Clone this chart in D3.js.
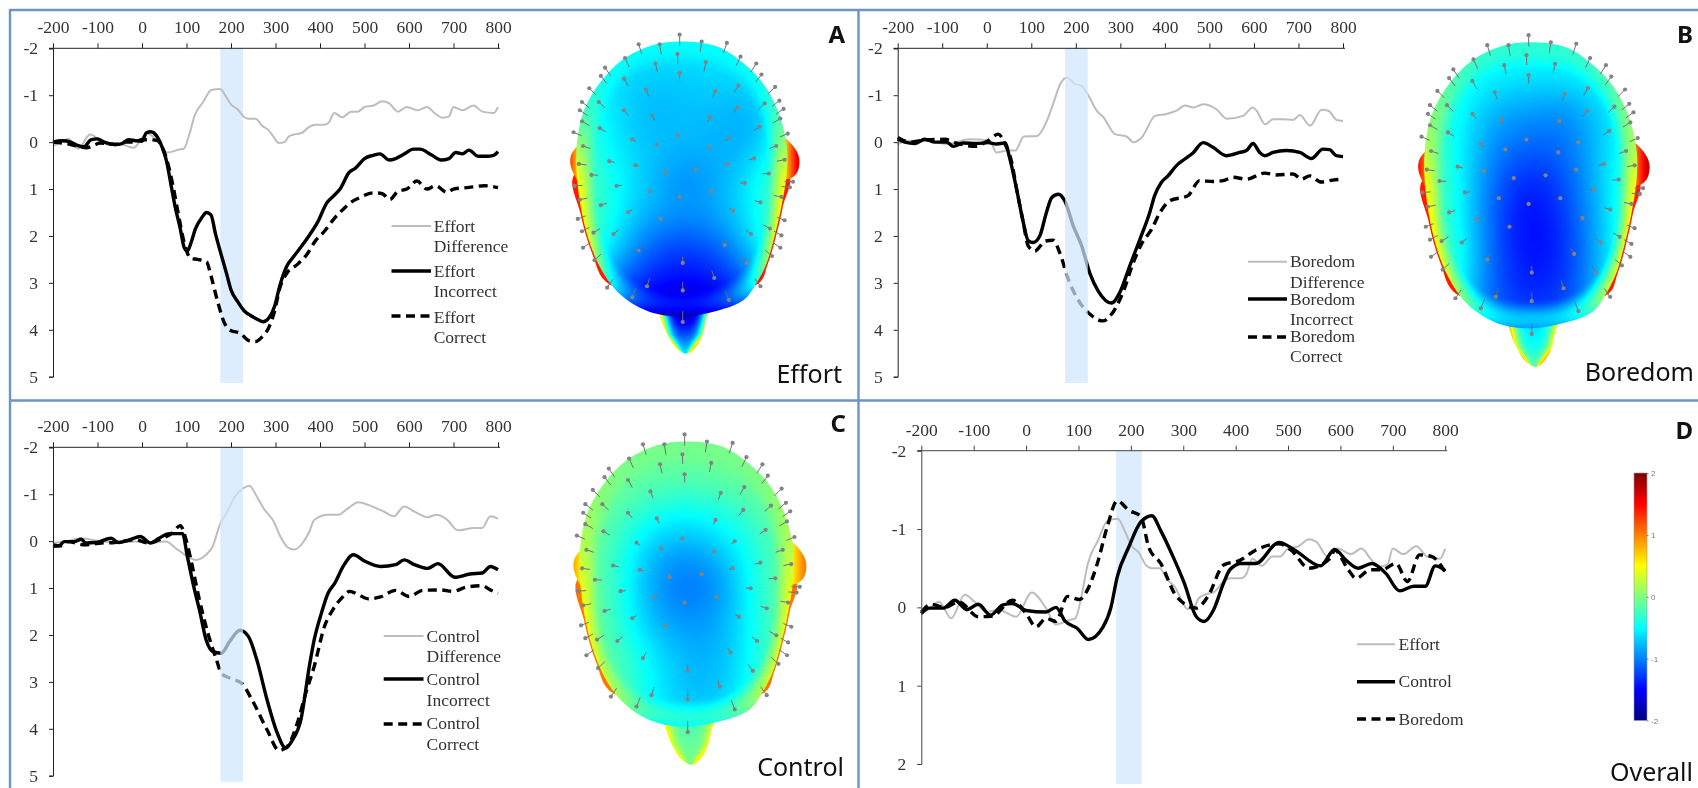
<!DOCTYPE html>
<html>
<head>
<meta charset="utf-8">
<style>
  html, body { margin: 0; padding: 0; background: #fff; overflow: hidden; }
  #wrap { position: relative; width: 1698px; height: 788px; }
  canvas, svg { position: absolute; left: 0; top: 0; filter: blur(0.5px); }
</style>
<script src="https://cdn.jsdelivr.net/npm/d3@7"></script>
</head>
<body>
<div id="wrap">
  <canvas id="heads" width="1698" height="788"></canvas>
  <svg id="chart" width="1698" height="788"></svg>
</div>
<script>
// ticks
const xTicks = [-200, -100, 0, 100, 200, 300, 400, 500, 600, 700, 800]
const yTicksLong = [-2, -1, 0, 1, 2, 3, 4, 5]
const yTicksShort = [-2, -1, 0, 1, 2]
const barTicks = [-2, -1, 0, 1, 2]
const bandRange = [176, 227]
const overallBandRange = [172, 221]

// Effort waveforms (time in ms, amplitude in uV)
const effortDiffT = [-200, -185, -166, -143, -117, -98, -75, -53, -19, 11, 38, 57, 83, 94, 106, 118, 137, 156, 175, 190, 200, 215, 230, 240, 255, 270, 285, 295, 308, 320, 330, 345, 360, 375, 390, 410, 420, 432, 450, 470, 485, 500, 520, 540, 555, 575, 595, 620, 640, 660, 675, 690, 700, 720, 745, 765, 790, 800]
const effortDiffV = [0.08, 0.02, -0.07, 0.14, -0.16, -0.07, 0.06, 0.03, 0.12, -0.19, 0.01, 0.22, 0.16, 0.14, -0.15, -0.56, -0.85, -1.11, -1.13, -0.95, -0.8, -0.7, -0.53, -0.5, -0.5, -0.35, -0.25, -0.12, 0.02, 0, -0.12, -0.17, -0.2, -0.32, -0.37, -0.37, -0.42, -0.62, -0.53, -0.65, -0.65, -0.75, -0.78, -0.87, -0.83, -0.65, -0.75, -0.68, -0.75, -0.6, -0.52, -0.55, -0.75, -0.68, -0.78, -0.65, -0.62, -0.75]
const effortIncT = [-200, -180, -160, -145, -130, -115, -100, -85, -60, -45, -30, -15, 0, 10, 20, 35, 45, 55, 65, 75, 85, 95, 102, 110, 120, 135, 145, 155, 165, 175, 190, 200, 215, 230, 245, 260, 272, 285, 298, 310, 325, 340, 360, 375, 395, 415, 430, 445, 465, 480, 500, 520, 535, 555, 570, 590, 610, 625, 650, 672, 690, 705, 720, 735, 755, 775, 790, 800]
const effortIncV = [0, -0.03, 0, 0.07, 0.1, -0.05, -0.07, 0, 0.05, 0.03, -0.05, -0.03, -0.02, -0.2, -0.22, -0.1, 0.1, 0.4, 0.9, 1.4, 1.8, 2.25, 2.32, 2.15, 1.85, 1.6, 1.5, 1.55, 1.95, 2.3, 2.8, 3.15, 3.4, 3.6, 3.7, 3.78, 3.83, 3.75, 3.5, 3.05, 2.65, 2.45, 2.2, 2, 1.7, 1.3, 1.15, 1, 0.65, 0.55, 0.35, 0.28, 0.25, 0.38, 0.35, 0.25, 0.15, 0.15, 0.27, 0.38, 0.35, 0.22, 0.25, 0.17, 0.3, 0.3, 0.28, 0.2]
const effortCorT = [-200, -180, -160, -140, -125, -110, -95, -60, -40, -20, 0, 20, 35, 45, 55, 70, 80, 95, 110, 125, 145, 155, 170, 185, 200, 220, 240, 255, 270, 285, 298, 310, 325, 350, 370, 390, 410, 430, 450, 470, 490, 520, 540, 557, 575, 595, 618, 640, 660, 685, 700, 730, 770, 800]
const effortCorV = [0, 0.02, 0.05, 0.1, 0.12, 0.08, 0.02, 0.05, 0, 0, -0.05, -0.05, -0.03, 0.1, 0.35, 0.95, 1.45, 2.15, 2.48, 2.5, 2.55, 2.85, 3.4, 3.85, 4.02, 4.07, 4.23, 4.25, 4.15, 3.95, 3.6, 3.1, 2.8, 2.6, 2.4, 2.1, 1.9, 1.65, 1.45, 1.28, 1.18, 1.08, 1.1, 1.22, 1.05, 1, 0.83, 1, 0.93, 1.07, 1, 0.97, 0.93, 0.97]

// Boredom waveforms
const boredomDiffT = [-200, -172, -135, -90, -38, 7, 22, 45, 64, 83, 113, 128, 150, 165, 180, 198, 213, 228, 247, 262, 288, 314, 329, 348, 378, 404, 426, 445, 464, 486, 516, 539, 576, 597, 606, 625, 643, 666, 688, 703, 726, 752, 767, 786, 800]
const boredomDiffV = [0.04, -0.03, -0.03, 0.04, -0.06, -0.03, 0.22, 0.18, 0.18, -0.12, -0.13, -0.31, -0.84, -1.24, -1.38, -1.24, -1.2, -1, -0.67, -0.53, -0.17, -0.12, 0, -0.1, -0.56, -0.6, -0.67, -0.78, -0.74, -0.81, -0.7, -0.5, -0.56, -0.74, -0.67, -0.38, -0.49, -0.49, -0.47, -0.58, -0.35, -0.69, -0.67, -0.47, -0.45]
const boredomIncT = [-200, -184, -161, -139, -116, -90, -75, -53, -23, 3, 22, 41, 52, 67, 82, 93, 104, 119, 134, 146, 161, 175, 194, 213, 232, 250, 280, 299, 321, 344, 366, 377, 392, 407, 426, 445, 463, 486, 508, 538, 568, 583, 598, 613, 624, 643, 673, 703, 729, 755, 770, 785, 800]
const boredomIncV = [-0.06, 0, 0.03, -0.06, 0, 0, 0.09, 0.02, 0.03, 0.01, 0.04, 0.02, 0.36, 1, 1.71, 2.1, 2.14, 2, 1.5, 1.18, 1.11, 1.25, 1.78, 2.21, 2.81, 3.17, 3.43, 3.2, 2.64, 2.07, 1.5, 1.14, 0.86, 0.72, 0.5, 0.36, 0.23, 0.01, 0.11, 0.29, 0.22, 0.18, 0.03, 0.22, 0.29, 0.22, 0.18, 0.22, 0.35, 0.15, 0.16, 0.29, 0.31]
const boredomCorT = [-200, -172, -135, -94, -68, -26, 3, 26, 41, 56, 67, 82, 93, 108, 131, 149, 164, 183, 209, 232, 261, 280, 306, 329, 347, 370, 389, 411, 452, 478, 508, 531, 553, 583, 624, 650, 688, 707, 725, 751, 777, 800]
const boredomCorV = [-0.1, 0, -0.05, -0.06, 0.02, 0.09, -0.03, -0.17, 0.04, 0.43, 1, 1.71, 2.21, 2.32, 2.11, 2.09, 2.36, 2.92, 3.42, 3.67, 3.81, 3.67, 3.2, 2.57, 2.18, 1.86, 1.5, 1.25, 1.14, 0.82, 0.84, 0.82, 0.75, 0.79, 0.66, 0.7, 0.68, 0.79, 0.72, 0.85, 0.81, 0.79]

// Control waveforms
const controlDiffT = [-200, -175, -137, -91, -53, -15, 15, 53, 80, 121, 144, 159, 175, 190, 209, 228, 241, 258, 273, 296, 311, 327, 342, 361, 376, 387, 418, 441, 463, 486, 517, 547, 566, 589, 612, 642, 661, 684, 710, 745, 764, 783, 800]
const controlDiffV = [0.04, 0.01, -0.06, 0.01, 0.03, 0.01, 0.04, 0.01, 0.18, 0.4, 0.29, 0.11, -0.35, -0.6, -0.95, -1.13, -1.18, -0.95, -0.7, -0.42, -0.1, 0.13, 0.18, 0.04, -0.2, -0.45, -0.56, -0.56, -0.7, -0.83, -0.74, -0.61, -0.53, -0.74, -0.63, -0.51, -0.56, -0.47, -0.23, -0.28, -0.28, -0.53, -0.48]
const controlIncT = [-200, -186, -175, -152, -137, -126, -103, -69, -53, -27, -4, 19, 38, 61, 91, 102, 118, 129, 144, 159, 178, 197, 220, 239, 258, 281, 304, 323, 338, 357, 376, 387, 403, 418, 433, 452, 475, 501, 536, 570, 589, 612, 642, 665, 703, 737, 764, 783, 800]
const controlIncV = [0.11, 0.1, 0.01, 0.01, -0.04, 0.04, 0.03, -0.06, 0.03, -0.03, -0.1, 0.04, -0.06, -0.16, -0.16, 0.33, 1.04, 1.46, 2.1, 2.35, 2.39, 2.14, 1.9, 2.03, 2.53, 3.38, 4.09, 4.41, 4.24, 3.81, 2.67, 2.1, 1.54, 1.11, 0.9, 0.54, 0.29, 0.43, 0.54, 0.5, 0.4, 0.5, 0.58, 0.48, 0.77, 0.7, 0.68, 0.54, 0.61]
const controlCorT = [-200, -183, -167, -129, -91, -61, -15, 15, 45, 68, 86, 99, 110, 129, 148, 167, 178, 197, 224, 247, 281, 308, 327, 349, 368, 387, 410, 429, 448, 467, 486, 509, 536, 570, 600, 631, 669, 699, 729, 764, 783, 800]
const controlCorV = [0.08, 0.1, 0.01, 0.08, 0.04, 0.03, -0.03, 0.04, -0.06, -0.17, -0.33, -0.03, 0.4, 1.25, 1.96, 2.52, 2.81, 2.92, 3.03, 3.38, 4.02, 4.46, 4.37, 3.88, 3.24, 2.67, 1.82, 1.46, 1.22, 1.07, 1.14, 1.23, 1.19, 1.05, 1.18, 1.05, 1.04, 1.07, 0.98, 0.95, 1.04, 1.11]

// Overall panel: the difference waves on their own scale
const overallControlT = [-200, -185, -158, -136, -113, -91, -68, -45, -26, 0, 38, 57, 75, 98, 119, 147, 162, 174, 196, 219, 240, 257, 279, 302, 325, 340, 358, 377, 389, 411, 438, 483, 513, 562, 589, 611, 634, 660, 687, 713, 740, 762, 781, 800]
const overallControlV = [0.08, 0.01, 0.01, -0.09, 0.03, -0.04, 0.1, -0.03, -0.05, 0.04, 0.06, 0, 0.18, 0.27, 0.41, 0.25, 0, -0.39, -0.77, -1.09, -1.17, -0.98, -0.67, -0.31, 0.12, 0.18, 0.03, -0.31, -0.48, -0.56, -0.56, -0.83, -0.73, -0.53, -0.74, -0.6, -0.5, -0.56, -0.43, -0.21, -0.27, -0.27, -0.53, -0.47]
const overallBoredomT = [-200, -181, -155, -128, -91, -64, -26, 0, 19, 38, 57, 79, 102, 117, 136, 155, 174, 196, 219, 234, 257, 287, 325, 347, 377, 408, 438, 483, 506, 540, 581, 589, 615, 630, 657, 679, 706, 728, 751, 774, 800]
const overallBoredomV = [0.06, -0.04, 0, -0.07, 0.12, 0.11, -0.09, 0.08, 0.25, 0.14, 0.18, -0.14, -0.1, -0.22, -0.56, -1.03, -1.36, -1.24, -1.16, -0.77, -0.56, -0.14, 0.01, -0.14, -0.54, -0.6, -0.73, -0.81, -0.73, -0.5, -0.63, -0.73, -0.48, -0.37, -0.48, -0.48, -0.56, -0.33, -0.67, -0.65, -0.45]

// Scalp maps: amplitude on a 7 x 9 grid over the head, plus outline, rim, nose and ear levels
const effortScalp = [
  [-0.55, -0.55, -0.55, -0.55, -0.55, -0.55, -0.55],
  [-0.5, -0.6, -0.7, -0.7, -0.65, -0.6, -0.5],
  [-0.3, -0.6, -0.8, -0.75, -0.75, -0.85, -0.4],
  [-0.2, -0.55, -0.75, -0.75, -0.8, -0.85, -0.3],
  [-0.1, -0.45, -0.7, -1, -0.85, -0.55, -0.1],
  [-0.05, -0.45, -0.8, -0.9, -0.85, -0.55, -0.05],
  [0, -0.6, -1.1, -1.3, -1.15, -0.7, 0],
  [-0.4, -1, -1.4, -1.5, -1.45, -1.1, -0.4],
  [-1.2, -1.6, -1.8, -1.9, -1.8, -1.6, -1.2]
]
const effortRim = [-0.5, -0.45, -0.3, 0.05, 0.45, 0.55, 0.5, -0.2, -1.8]
const boredomScalp = [
  [-0.4, -0.4, -0.4, -0.4, -0.4, -0.4, -0.4],
  [-0.2, -0.4, -0.55, -0.6, -0.6, -0.45, -0.3],
  [-0.1, -0.5, -0.85, -0.9, -1, -0.7, -0.35],
  [-0.1, -0.55, -1, -1.15, -1.1, -0.7, -0.3],
  [0, -0.5, -1.15, -1.45, -1.2, -0.7, -0.15],
  [0, -0.5, -1.2, -1.55, -1.3, -0.75, -0.1],
  [0.1, -0.4, -1.2, -1.5, -1.35, -0.75, -0.1],
  [0, -0.5, -1.2, -1.4, -1.3, -0.7, -0.1],
  [-0.7, -0.9, -1.1, -1.15, -1.1, -0.9, -0.6]
]
const boredomRim = [-0.35, -0.2, 0, 0.15, 0.45, 0.6, 0.6, 0.4, -0.9]
const controlScalp = [
  [-0.05, -0.05, -0.05, -0.05, -0.05, -0.05, -0.05],
  [0, -0.05, -0.1, -0.15, -0.1, -0.05, 0],
  [0, -0.15, -0.4, -0.5, -0.4, -0.2, 0],
  [0, -0.3, -0.75, -0.9, -0.7, -0.35, -0.05],
  [0.05, -0.3, -0.9, -1.1, -0.95, -0.35, 0],
  [0.05, -0.3, -0.8, -0.95, -0.85, -0.4, 0],
  [0.05, -0.2, -0.55, -0.8, -0.8, -0.4, 0.05],
  [0.05, -0.1, -0.5, -0.8, -0.75, -0.35, 0.05],
  [-0.3, -0.45, -0.55, -0.6, -0.55, -0.4, -0.2]
]
const controlRim = [-0.05, 0, 0.1, 0.2, 0.4, 0.5, 0.5, 0.35, -0.5]

const effortNose = [-1.7, -1.2, -0.55]
const boredomNose = [-0.6, -0.45, -0.1]
const controlNose = [-0.2, -0.1, 0]
const effortNoseEdge = 0.6
const boredomNoseEdge = 0.7
const controlNoseEdge = 0.55
const effortEars = [0.8, 1.55]
const boredomEars = [1.1, 1.7]
const controlEars = [0.6, 1]
const effortBackRim = 1.4
const boredomBackRim = 1.4
const controlBackRim = 1.05

// head shapes and sensor layout, in head units (-1..1 across the scalp)
const headOutline = [[0, -1], [0.33, -0.965], [0.59, -0.84], [0.78, -0.69], [0.92, -0.49], [1, -0.24], [1, -0.04], [0.95, 0.2], [0.9, 0.37], [0.81, 0.61], [0.71, 0.76], [0.59, 0.88], [0.33, 0.96], [0.02, 1], [-0.27, 0.975], [-0.52, 0.88], [-0.68, 0.76], [-0.84, 0.54], [-0.95, 0.25], [-1, -0.04], [-1, -0.24], [-0.94, -0.48], [-0.78, -0.7], [-0.56, -0.87], [-0.27, -0.975]]
const noseOutline = [[-0.2, 0.95], [-0.19, 1.03], [-0.13, 1.14], [-0.05, 1.23], [0.05, 1.27], [0.14, 1.22], [0.2, 1.13], [0.23, 1.03], [0.25, 0.95]]
const leftEar = [[-0.98, -0.24], [-1.05, -0.18], [-1.06, -0.11], [-1.03, -0.04], [-0.97, 0.03]]
const rightEar = [[0.96, -0.3], [1.06, -0.24], [1.12, -0.15], [1.1, -0.05], [1.02, 0], [0.96, -0.02]]
const sensors = [[-0.02, -1.05], [-0.41, -0.98], [-0.21, -0.98], [0.19, -1], [0.43, -0.99], [-0.54, -0.88], [0.56, -0.89], [-0.73, -0.81], [0.71, -0.84], [-0.77, -0.75], [0.76, -0.76], [-0.88, -0.66], [0.89, -0.67], [-0.95, -0.56], [0.93, -0.57], [-0.97, -0.5], [0.97, -0.51], [-0.95, -0.42], [0.94, -0.44], [-1.03, -0.34], [1.01, -0.33], [-0.04, -0.91], [-0.25, -0.84], [0.23, -0.85], [-0.02, -0.77], [-0.55, -0.73], [0.54, -0.68], [-0.34, -0.65], [0.32, -0.64], [-0.79, -0.56], [0.79, -0.55], [-0.55, -0.5], [0.53, -0.52], [-0.28, -0.46], [0.27, -0.45], [-0.78, -0.37], [0.74, -0.38], [-0.47, -0.29], [-0.04, -0.32], [0.45, -0.3], [-0.94, -0.24], [0.9, -0.24], [-0.24, -0.25], [0.26, -0.23], [-0.69, -0.13], [0.69, -0.15], [-0.44, -0.1], [0.43, -0.11], [-0.98, -0.11], [0.98, -0.14], [-0.16, -0.05], [0.14, -0.07], [-0.86, -0.03], [0.83, -0.04], [-1.02, 0.05], [1.06, 0.02], [1.03, 0.06], [-0.62, 0.05], [0.6, 0.03], [-0.3, 0.09], [-0.02, 0.13], [0.28, 0.09], [-0.97, 0.15], [0.95, 0.13], [-0.77, 0.19], [0.75, 0.17], [-0.51, 0.24], [0.49, 0.23], [-0.2, 0.29], [-0.99, 0.29], [0.98, 0.3], [-0.95, 0.38], [-0.84, 0.39], [-0.65, 0.4], [0.66, 0.4], [0.84, 0.36], [0.95, 0.41], [-0.94, 0.5], [-0.41, 0.52], [0.41, 0.48], [0.94, 0.5], [-0.83, 0.59], [0.01, 0.61], [0.62, 0.61], [0.86, 0.56], [-0.71, 0.79], [-0.33, 0.78], [0.31, 0.72], [0.75, 0.78], [0.01, 0.81], [-0.47, 0.86], [0.45, 0.88], [0.01, 1.04]]

const jetStops = [-2, -1.5, -0.5, 0, 0.5, 1.5, 2]
const jetColors = ['#00007f', '#0000ff', '#00ffff', '#80ff80', '#ffff00', '#ff0000', '#7f0000']

const jet = d3.scaleLinear().domain(jetStops).range(jetColors).clamp(true)

const svg = d3.select('#chart')
const ctx = document.getElementById('heads').getContext('2d')
ctx.fillStyle = '#fff'
ctx.fillRect(0, 0, 1698, 788)

const GREY = { color: '#bdbdbd', width: 2, dash: null }
const SOLID = { color: '#000', width: 3.4, dash: null }
const DASH = { color: '#000', width: 3.4, dash: '9,5.5' }

function drawWaveChart(cfg) {
  const x = d3.scaleLinear().domain([-200, 800]).range(cfg.xRange)
  const y = d3.scaleLinear().domain(cfg.yDomain).range(cfg.yRange)
  const g = svg.append('g')

  const line = d3
    .line()
    .x(d => x(d[0]))
    .y(d => y(d[1]))
    .curve(d3.curveMonotoneX)

  function band() {
    g.append('rect')
      .attr('x', x(cfg.band[0]))
      .attr('y', cfg.yRange[0])
      .attr('width', x(cfg.band[1]) - x(cfg.band[0]))
      .attr('height', cfg.bandBottom - cfg.yRange[0])
      .attr('fill', cfg.bandOnTop ? '#cfe6fd' : '#ddedfe')
      .attr('fill-opacity', cfg.bandOnTop ? 0.72 : 1)
  }

  if (!cfg.bandOnTop) band()

  cfg.series.forEach(s => {
    g.append('path')
      .datum(d3.zip(s.t, s.v))
      .attr('d', line)
      .attr('fill', 'none')
      .attr('stroke', s.style.color)
      .attr('stroke-width', s.style.width)
      .attr('stroke-dasharray', s.style.dash)
      .attr('stroke-linejoin', 'round')
  })

  if (cfg.bandOnTop) band()

  const plain = d => String(d)
  const top = g
    .append('g')
    .attr('transform', 'translate(0,' + cfg.yRange[0] + ')')
    .call(
      d3
        .axisTop(x)
        .tickValues(xTicks)
        .tickFormat(plain)
        .tickSize(5)
        .tickPadding(10)
    )
  const left = g
    .append('g')
    .attr('transform', 'translate(' + cfg.xRange[0] + ',0)')
    .call(
      d3
        .axisLeft(y)
        .tickValues(cfg.yTicks)
        .tickFormat(plain)
        .tickSize(4)
        .tickPadding(11)
    )
  top.selectAll('.domain').attr('d', 'M' + (cfg.xRange[0] - 4) + ',0H' + (cfg.xRange[1] + 2))
  ;[top, left].forEach(a => {
    a.selectAll('path,line').attr('stroke', cfg.axisColor)
    a.selectAll('text')
      .attr('fill', '#333')
      .style('font', '17.5px "Liberation Serif"')
  })

  cfg.legend.forEach(l => {
    g.append('line')
      .attr('x1', cfg.legendX[0])
      .attr('x2', cfg.legendX[1])
      .attr('y1', l.y)
      .attr('y2', l.y)
      .attr('stroke', l.style.color)
      .attr('stroke-width', l.style.width)
      .attr('stroke-dasharray', l.style.dash)
    l.text.forEach(t => {
      g.append('text')
        .attr('x', cfg.legendX[2])
        .attr('y', t[1] + 5.5)
        .attr('fill', '#333')
        .style('font', '17.5px "Liberation Serif"')
        .text(t[0])
    })
  })
}

function smooth(a, b, t) {
  const k = Math.max(0, Math.min(1, (t - a) / (b - a)))
  return k * k * (3 - 2 * k)
}

function paintLayer(outline, ux, uy, box, valueAt) {
  const w = box[2] - box[0]
  const h = box[3] - box[1]
  const off = document.createElement('canvas')
  off.width = w
  off.height = h
  const octx = off.getContext('2d')
  const img = octx.createImageData(w, h)
  for (let i = 0; i < w; i++) {
    const u = ux.invert(box[0] + i + 0.5)
    const colFn = valueAt(u)
    for (let j = 0; j < h; j++) {
      const v = uy.invert(box[1] + j + 0.5)
      const c = d3.rgb(jet(colFn(v)))
      const k = (j * w + i) * 4
      img.data[k] = c.r
      img.data[k + 1] = c.g
      img.data[k + 2] = c.b
      img.data[k + 3] = 255
    }
  }
  octx.putImageData(img, 0, 0)
  const shape = d3
    .line()
    .x(d => ux(d[0]))
    .y(d => uy(d[1]))
    .curve(d3.curveCatmullRomClosed.alpha(0.5))
  ctx.save()
  ctx.clip(new Path2D(shape(outline)))
  ctx.drawImage(off, box[0], box[1])
  ctx.restore()
}

function drawHead(cfg) {
  const ux = d3.scaleLinear().domain([-1, 1]).range([cfg.cx - cfg.hw, cfg.cx + cfg.hw])
  const uy = d3.scaleLinear().domain([-1, 1]).range([cfg.cy - cfg.hh, cfg.cy + cfg.hh])
  const box = [
    Math.floor(ux(-1.2)),
    Math.floor(uy(-1.1)),
    Math.ceil(ux(1.2)),
    Math.ceil(uy(1.32))
  ]

  // back of the head showing below the ears, only along the sides
  const backRim = headOutline
    .filter(d => d[1] > -0.1 && d[1] < 0.8)
    .map(d => [d[0] * 1.014, d[1] * 1.006])
  paintLayer(backRim, ux, uy, box, () => () => cfg.backRim)

  // ears, hotter towards the outside
  const earLevel = d3.scaleLinear().domain([1, 1.1]).range(cfg.ears).clamp(true)
  const earFn = u => () => earLevel(Math.abs(u))
  paintLayer(leftEar, ux, uy, box, earFn)
  paintLayer(rightEar, ux, uy, box, earFn)

  // nose
  const noseWidth = d3.scaleLinear().domain([0.95, 1.13, 1.27]).range([0.24, 0.18, 0.03])
  const noseLine = d3.interpolateBasis(cfg.nose)
  paintLayer(noseOutline, ux, uy, box, u => v => {
    const t = Math.min(1, Math.abs(u - 0.03) / noseWidth(v))
    const c = noseLine(Math.max(0, Math.min(1, (v - 1) / 0.27)))
    return c + (cfg.noseEdge - c) * t * t * t
  })

  // scalp surface
  const rows = cfg.scalp.map(r => d3.interpolateBasis(r))
  const rimFn = d3.interpolateBasis(cfg.rim)
  paintLayer(headOutline, ux, uy, box, u => {
    const uu = Math.max(0, Math.min(1, (u + 1) / 2))
    const col = d3.interpolateBasis(rows.map(r => r(uu)))
    return v => {
      const vv = Math.max(0, Math.min(1, (v + 1) / 2))
      const rr = Math.pow(Math.pow(Math.abs(u), 2.5) + Math.pow(Math.abs(v), 2.5), 1 / 2.5)
      const k = smooth(0.8, 1, rr)
      return col(vv) * (1 - k) + rimFn(vv) * k
    }
  })

  // sensors: a dot with a short stem pointing at the middle of the head
  const g = svg.append('g')
  const pins = g
    .selectAll('g')
    .data(sensors)
    .enter()
    .append('g')
  pins
    .append('line')
    .attr('x1', d => ux(d[0]))
    .attr('y1', d => uy(d[1]))
    .attr('x2', d => ux(d[0] * (1 - stem(d))))
    .attr('y2', d => uy(d[1] * (1 - stem(d))))
    .attr('stroke', '#6f6f6f')
    .attr('stroke-width', 1)
  pins
    .append('circle')
    .attr('cx', d => ux(d[0]))
    .attr('cy', d => uy(d[1]))
    .attr('r', 2.1)
    .attr('fill', '#838383')
}

function stem(d) {
  const r = Math.sqrt(d[0] * d[0] + d[1] * d[1])
  if (r < 0.4) return 0
  return 0.075
}

function drawColorBar() {
  const y = d3.scaleLinear().domain([2, -2]).range([473, 720.5])
  const grad = svg
    .append('defs')
    .append('linearGradient')
    .attr('id', 'jetbar')
    .attr('x1', 0)
    .attr('y1', 0)
    .attr('x2', 0)
    .attr('y2', 1)
  jetStops
    .slice()
    .reverse()
    .forEach(v => {
      grad
        .append('stop')
        .attr('offset', (2 - v) / 4)
        .attr('stop-color', jet(v))
    })
  svg
    .append('rect')
    .attr('x', 1634)
    .attr('y', y(2))
    .attr('width', 13)
    .attr('height', y(-2) - y(2))
    .attr('fill', 'url(#jetbar)')
    .attr('stroke', '#999')
    .attr('stroke-width', 0.6)
  const axis = svg
    .append('g')
    .attr('transform', 'translate(1647,0)')
    .call(
      d3
        .axisRight(y)
        .tickValues(barTicks)
        .tickSize(1.5)
        .tickPadding(2.5)
        .tickFormat(d => String(d))
    )
  axis.select('.domain').remove()
  axis.selectAll('line').attr('stroke', '#777')
  axis
    .selectAll('text')
    .attr('fill', '#777')
    .style('font', '8px "Liberation Sans"')
}

function drawFrame() {
  const frame = svg.append('g').attr('stroke', '#6d93c9').attr('stroke-width', 2.4)
  frame.append('line').attr('x1', 10).attr('x2', 1698).attr('y1', 10).attr('y2', 10)
  frame.append('line').attr('x1', 10).attr('x2', 10).attr('y1', 9).attr('y2', 788)
  frame.append('line').attr('x1', 858.5).attr('x2', 858.5).attr('y1', 9).attr('y2', 788)
  frame.append('line').attr('x1', 10).attr('x2', 1698).attr('y1', 400.5).attr('y2', 400.5)
}

function caption(text, xPos, yPos, size, weight) {
  svg
    .append('text')
    .attr('x', xPos)
    .attr('y', yPos)
    .attr('text-anchor', 'end')
    .attr('fill', '#111')
    .style('font', weight + ' ' + size + 'px "Noto Sans"')
    .text(text)
}

// scalp maps
drawHead({ cx: 681.7, cy: 179, hw: 105, hh: 137.5, scalp: effortScalp, rim: effortRim, nose: effortNose, noseEdge: effortNoseEdge, ears: effortEars, backRim: effortBackRim })
drawHead({ cx: 1530.7, cy: 185.3, hw: 106, hh: 143, scalp: boredomScalp, rim: boredomRim, nose: boredomNose, noseEdge: boredomNoseEdge, ears: boredomEars, backRim: boredomBackRim })
drawHead({ cx: 686.7, cy: 584, hw: 106.7, hh: 142.5, scalp: controlScalp, rim: controlRim, nose: controlNose, noseEdge: controlNoseEdge, ears: controlEars, backRim: controlBackRim })

drawWaveChart({
  xRange: [53, 498],
  yRange: [48.3, 376.7],
  yDomain: [-2, 5],
  yTicks: yTicksLong,
  band: bandRange,
  bandBottom: 383,
  bandOnTop: false,
  axisColor: '#222',
  series: [
    { t: effortDiffT, v: effortDiffV, style: GREY },
    { t: effortCorT, v: effortCorV, style: DASH },
    { t: effortIncT, v: effortIncV, style: SOLID }
  ],
  legendX: [391.5, 431, 433.7],
  legend: [
    { y: 226, style: GREY, text: [['Effort', 226], ['Difference', 246]] },
    { y: 271, style: SOLID, text: [['Effort', 271], ['Incorrect', 291]] },
    { y: 316, style: DASH, text: [['Effort', 317], ['Correct', 337]] }
  ]
})

drawWaveChart({
  xRange: [897.7, 1343],
  yRange: [48.3, 376.7],
  yDomain: [-2, 5],
  yTicks: yTicksLong,
  band: bandRange,
  bandBottom: 383,
  bandOnTop: true,
  axisColor: '#222',
  series: [
    { t: boredomDiffT, v: boredomDiffV, style: GREY },
    { t: boredomCorT, v: boredomCorV, style: DASH },
    { t: boredomIncT, v: boredomIncV, style: SOLID }
  ],
  legendX: [1248, 1287, 1290],
  legend: [
    { y: 261.7, style: GREY, text: [['Boredom', 261.7], ['Difference', 282.3]] },
    { y: 299, style: SOLID, text: [['Boredom', 299], ['Incorrect', 319.3]] },
    { y: 337, style: DASH, text: [['Boredom', 336], ['Correct', 356.7]] }
  ]
})

drawWaveChart({
  xRange: [53, 498],
  yRange: [447.3, 775.7],
  yDomain: [-2, 5],
  yTicks: yTicksLong,
  band: bandRange,
  bandBottom: 781.7,
  bandOnTop: true,
  axisColor: '#222',
  series: [
    { t: controlDiffT, v: controlDiffV, style: GREY },
    { t: controlCorT, v: controlCorV, style: DASH },
    { t: controlIncT, v: controlIncV, style: SOLID }
  ],
  legendX: [383.7, 423.5, 426.6],
  legend: [
    { y: 636, style: GREY, text: [['Control', 636], ['Difference', 656.7]] },
    { y: 679, style: SOLID, text: [['Control', 679.3], ['Incorrect', 700]] },
    { y: 724, style: DASH, text: [['Control', 723.3], ['Correct', 744]] }
  ]
})

drawWaveChart({
  xRange: [921.3, 1445.2],
  yRange: [450.7, 764],
  yDomain: [-2, 2],
  yTicks: yTicksShort,
  band: overallBandRange,
  bandBottom: 784,
  bandOnTop: false,
  axisColor: '#444',
  series: [
    { t: effortDiffT, v: effortDiffV, style: GREY },
    { t: overallBoredomT, v: overallBoredomV, style: DASH },
    { t: overallControlT, v: overallControlV, style: SOLID }
  ],
  legendX: [1357, 1395, 1398.5],
  legend: [
    { y: 644.3, style: GREY, text: [['Effort', 644.3]] },
    { y: 681.7, style: SOLID, text: [['Control', 681.7]] },
    { y: 719, style: DASH, text: [['Boredom', 719]] }
  ]
})

drawColorBar()
drawFrame()

caption('A', 845, 43, 24, 'bold')
caption('B', 1693, 43, 24, 'bold')
caption('C', 846, 432, 24, 'bold')
caption('D', 1693, 439, 24, 'bold')
caption('Effort', 842, 383, 25, 'normal')
caption('Boredom', 1694, 381, 25, 'normal')
caption('Control', 844, 776, 25, 'normal')
caption('Overall', 1693, 781, 25, 'normal')
</script>
</body>
</html>
